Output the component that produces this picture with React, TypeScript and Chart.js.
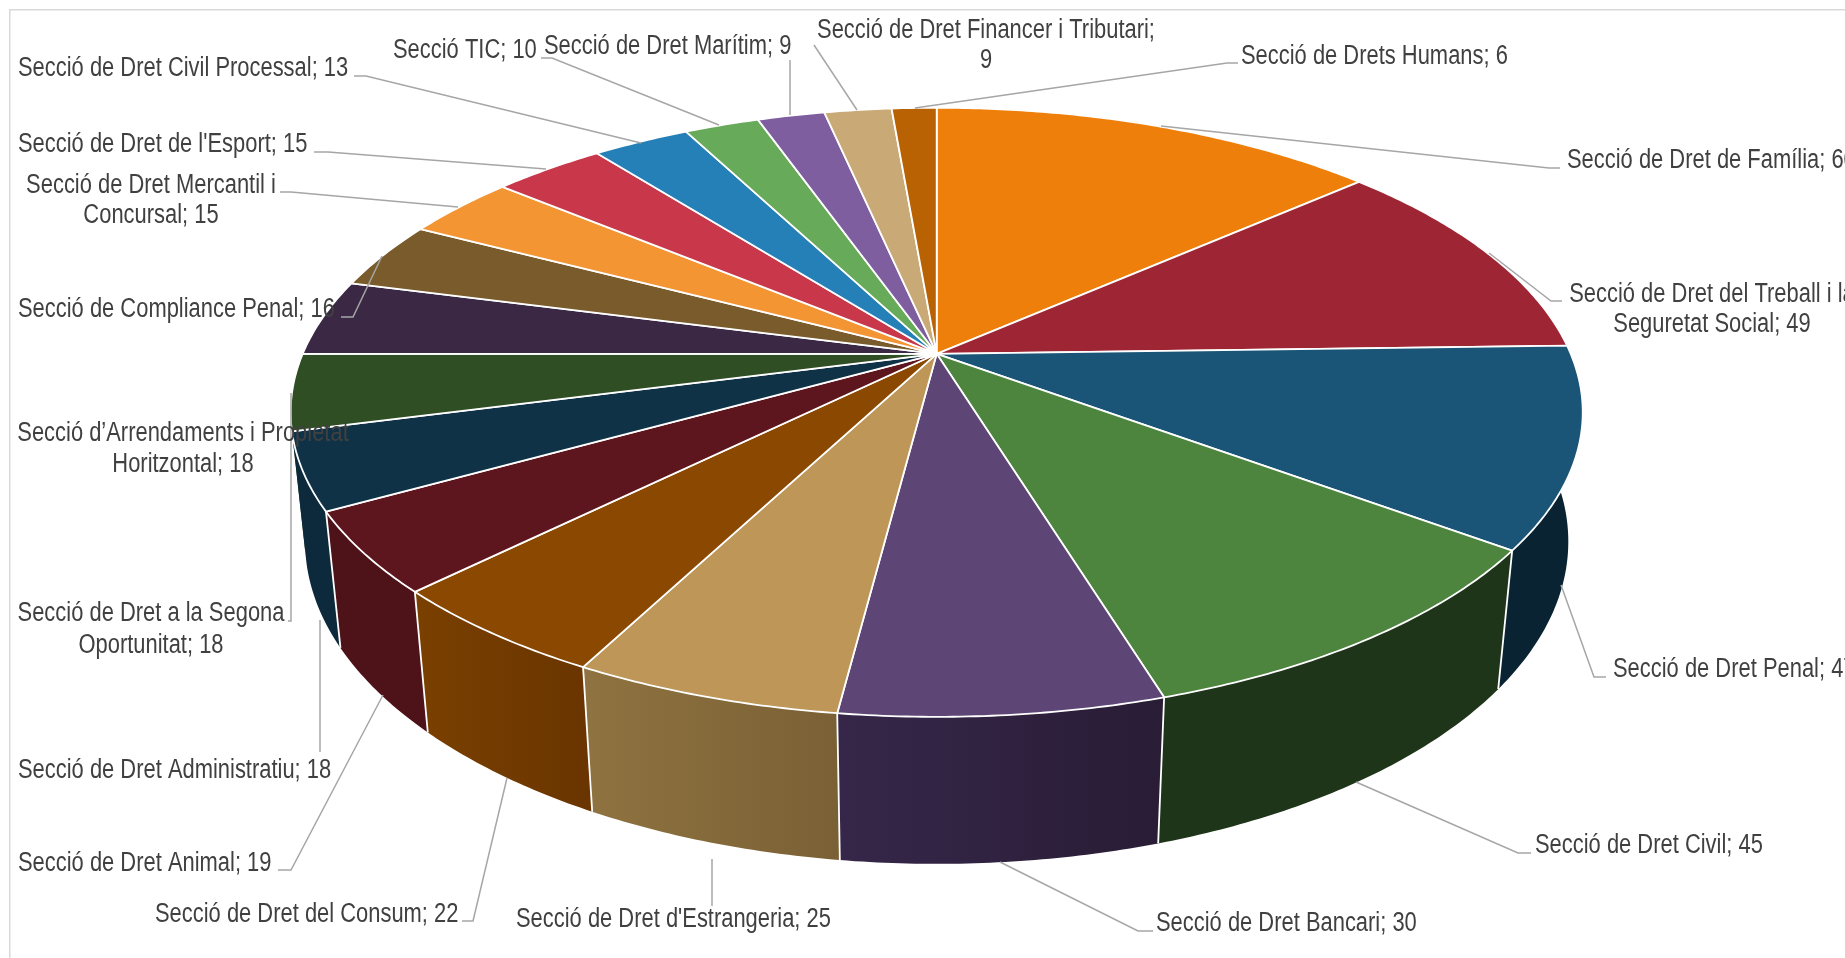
import React, { useEffect, useRef } from "react";
import { Chart, registerables } from "chart.js";

Chart.register(...registerables);

const categories = [
  "Secció de Dret de Família", "Secció de Dret del Treball i la Seguretat Social", "Secció de Dret Penal",
  "Secció de Dret Civil", "Secció de Dret Bancari", "Secció de Dret d'Estrangeria", "Secció de Dret del Consum",
  "Secció de Dret Animal", "Secció de Dret Administratiu", "Secció de Dret a la Segona Oportunitat",
  "Secció d’Arrendaments i Propietat Horitzontal", "Secció de Compliance Penal", "Secció de Dret Mercantil i Concursal",
  "Secció de Dret de l'Esport", "Secció de Dret Civil Processal", "Secció TIC", "Secció de Dret Marítim",
  "Secció de Dret Financer i Tributari", "Secció de Drets Humans",
];
const values = [60, 49, 47, 45, 30, 25, 22, 19, 18, 18, 18, 16, 15, 15, 13, 10, 9, 9, 6];
const topColors = [
  "#ee7f0a", "#9e2634", "#1a5577", "#4d853f", "#5d4575", "#bd9658", "#8a4801", "#5e161e", "#0f3247", "#2f4e24",
  "#3a2844", "#7a5b2b", "#f39533", "#c9384a", "#2680b8", "#67aa59", "#7e5e9e", "#c9aa77", "#b96204",
];
const wallColors: string[][] = [
  ["#a85a07", "#a85a07"], ["#5f1720", "#5f1720"], ["#0a2333", "#0a2333"], ["#1e3519", "#1e3519"], ["#36274a", "#291c35"],
  ["#8f7340", "#7a6035"], ["#7a4000", "#6a3500"], ["#4e1219", "#4e1219"], ["#0c2a3c", "#0c2a3c"], ["#243c1b", "#243c1b"],
  ["#2c1f34", "#2c1f34"], ["#5e4621", "#5e4621"], ["#bc7327", "#bc7327"], ["#9b2b39", "#9b2b39"], ["#1d628e", "#1d628e"],
  ["#4f8345", "#4f8345"], ["#61487a", "#61487a"], ["#9b835c", "#9b835c"], ["#8e4b03", "#8e4b03"],
];

// Rows of each data label as they wrap on the picture.
const labelRows: string[][] = [
  ["Secció de Dret de Família; 60"],
  ["Secció de Dret del Treball i la", "Seguretat Social; 49"],
  ["Secció de Dret Penal; 47"],
  ["Secció de Dret Civil; 45"],
  ["Secció de Dret Bancari; 30"],
  ["Secció de Dret d'Estrangeria; 25"],
  ["Secció de Dret del Consum; 22"],
  ["Secció de Dret Animal; 19"],
  ["Secció de Dret Administratiu; 18"],
  ["Secció de Dret a la Segona", "Oportunitat; 18"],
  ["Secció d’Arrendaments i Propietat", "Horitzontal; 18"],
  ["Secció de Compliance Penal; 16"],
  ["Secció de Dret Mercantil i", "Concursal; 15"],
  ["Secció de Dret de l'Esport; 15"],
  ["Secció de Dret Civil Processal; 13"],
  ["Secció TIC; 10"],
  ["Secció de Dret Marítim; 9"],
  ["Secció de Dret Financer i Tributari;", "9"],
  ["Secció de Drets Humans; 6"],
];
// Placement of each row: [x, baseline]; x is the left edge for one row, the centre for wrapped rows.
const labelAnchors: number[][][] = [
  [[1567, 168]],
  [[1712, 302], [1712, 332]],
  [[1613, 677]],
  [[1535, 853]],
  [[1156, 931]],
  [[516, 927]],
  [[155, 922]],
  [[18, 871]],
  [[18, 778]],
  [[151, 621], [151, 653]],
  [[183, 441], [183, 472]],
  [[18, 317]],
  [[151, 193], [151, 223]],
  [[18, 152]],
  [[18, 76]],
  [[393, 58]],
  [[544, 54]],
  [[986, 38], [986, 68]],
  [[1241, 64]],
];
const leaderLines: number[][][] = [
  [[1560, 168], [1549, 168], [1161, 126]],
  [[1562, 301], [1551, 301], [1489, 253]],
  [[1606, 677], [1594, 677], [1561, 585]],
  [[1531, 853], [1518, 853], [1356, 782]],
  [[1153, 931], [1138, 931], [1000, 862]],
  [[712, 906], [712, 859]],
  [[462, 921], [473, 921], [507, 778]],
  [[278, 870], [291, 870], [383, 695]],
  [[320, 752], [320, 620]],
  [[288, 621], [291, 621], [291, 393]],
  [],
  [[341, 317], [353, 317], [382, 256]],
  [[280, 192], [291, 192], [458, 207]],
  [[314, 152], [328, 152], [546, 169]],
  [[354, 76], [366, 76], [641, 143]],
  [[541, 58], [552, 58], [719, 125]],
  [[790, 60], [790, 115]],
  [[814, 45], [857, 110]],
  [[1238, 63], [1227, 63], [915, 108]],
];

const VIEW = { cx: 936.7, cy: 353.8, a: 634, b: 293.3, k: 0.1921, m: 0.022, h: 130 };
const FONT = { size: 27, family: '"Liberation Sans", Arial, sans-serif', stretch: 0.812, color: "#404040" };

function project(theta: number, z: number): [number, number] {
  const u = Math.cos(theta);
  const v = Math.sin(theta);
  const w = 1 - VIEW.k * v + VIEW.m * z;
  return [VIEW.cx + (VIEW.a * u) / w, VIEW.cy + (VIEW.b * v + VIEW.h * z) / w];
}

function arcAngles(from: number, to: number): number[] {
  const n = Math.max(2, Math.ceil((to - from) / 0.01));
  const list: number[] = [];
  for (let i = 0; i <= n; i++) list.push(from + ((to - from) * i) / n);
  return list;
}

const pie3d = {
  id: "pie3d",
  beforeDatasetDraw(chart: any, args: any) {
    const ctx = chart.ctx as CanvasRenderingContext2D;
    const arcs: any[] = args.meta.data;
    const order = arcs
      .map((arc, i) => ({ i, s: Math.sin((arc.startAngle + arc.endAngle) / 2) }))
      .sort((p, q) => p.s - q.s);
    ctx.save();
    ctx.lineJoin = "round";
    for (const { i } of order) {
      const arc = arcs[i];
      const seen = arcAngles(arc.startAngle, arc.endAngle).filter((t) => Math.sin(t) > -0.25);
      if (seen.length < 2) continue;
      const p0 = project(seen[0], 0);
      const p1 = project(seen[seen.length - 1], 0);
      const grad = ctx.createLinearGradient(Math.min(p0[0], p1[0]), 0, Math.max(p0[0], p1[0]) + 1, 0);
      grad.addColorStop(0, wallColors[i][0]);
      grad.addColorStop(1, wallColors[i][1]);
      ctx.beginPath();
      seen.forEach((t, n) => {
        const p = project(t, 0);
        if (n === 0) ctx.moveTo(p[0], p[1]);
        else ctx.lineTo(p[0], p[1]);
      });
      [...seen].reverse().forEach((t) => {
        const p = project(t, 1);
        ctx.lineTo(p[0], p[1]);
      });
      ctx.closePath();
      ctx.fillStyle = grad;
      ctx.fill();
    }
    ctx.strokeStyle = "#ffffff";
    ctx.lineWidth = 1.8;
    arcs.forEach((arc) => {
      if (Math.sin(arc.startAngle) < 0.3) return;
      const a0 = project(arc.startAngle, 0);
      const a1 = project(arc.startAngle, 1);
      ctx.beginPath();
      ctx.moveTo(a0[0], a0[1]);
      ctx.lineTo(a1[0], a1[1]);
      ctx.stroke();
    });
    arcs.forEach((arc, i) => {
      ctx.beginPath();
      ctx.moveTo(VIEW.cx, VIEW.cy);
      arcAngles(arc.startAngle, arc.endAngle).forEach((t) => {
        const p = project(t, 0);
        ctx.lineTo(p[0], p[1]);
      });
      ctx.closePath();
      ctx.fillStyle = topColors[i];
      ctx.fill();
      ctx.stroke();
    });
    ctx.restore();
    return false;
  },
  afterDraw(chart: any) {
    const ctx = chart.ctx as CanvasRenderingContext2D;
    ctx.save();
    ctx.strokeStyle = "#d9d9d9";
    ctx.lineWidth = 1.5;
    ctx.strokeRect(9.75, 9.75, 3000, 3000);
    ctx.strokeStyle = "#a6a6a6";
    ctx.lineWidth = 1.5;
    leaderLines.forEach((line) => {
      if (!line.length) return;
      ctx.beginPath();
      line.forEach((p, n) => (n === 0 ? ctx.moveTo(p[0], p[1]) : ctx.lineTo(p[0], p[1])));
      ctx.stroke();
    });
    ctx.font = `${FONT.size}px ${FONT.family}`;
    ctx.fillStyle = FONT.color;
    ctx.textBaseline = "alphabetic";
    labelRows.forEach((rows, i) => {
      rows.forEach((row, r) => {
        const [x, y] = labelAnchors[i][r];
        ctx.save();
        ctx.translate(x, y);
        ctx.scale(FONT.stretch, 1);
        ctx.textAlign = rows.length > 1 ? "center" : "left";
        ctx.fillText(row, 0, 0);
        ctx.restore();
      });
    });
    ctx.restore();
  },
};

export default function App() {
  const ref = useRef<HTMLCanvasElement | null>(null);
  useEffect(() => {
    const chart = new Chart(ref.current as HTMLCanvasElement, {
      type: "pie",
      data: {
        labels: categories,
        datasets: [{ data: values, backgroundColor: topColors, borderColor: "#ffffff" }],
      },
      options: {
        responsive: false,
        animation: false,
        plugins: { legend: { display: false }, tooltip: { enabled: false } },
      },
      plugins: [pie3d],
    } as any);
    return () => chart.destroy();
  }, []);
  return (
    <canvas
      ref={ref}
      width={1845}
      height={958}
      style={{ position: "fixed", left: 0, top: 0, width: 1845, height: 958, display: "block", background: "#ffffff" }}
    />
  );
}
